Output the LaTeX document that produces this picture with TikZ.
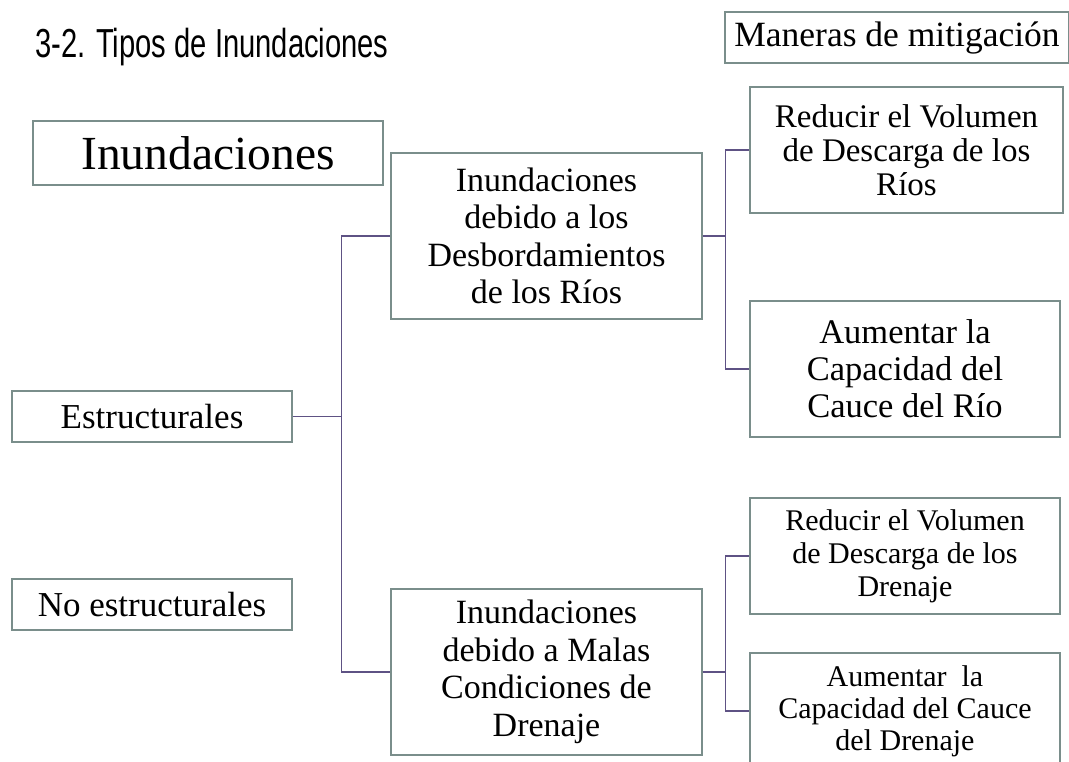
\documentclass[tikz,border=0pt]{standalone}
\usepackage{fontspec}
\setmainfont{Liberation Serif}
\newfontfamily\titlefont{Liberation Sans}[FakeStretch=0.72]
\usepackage{tikz}
\usetikzlibrary{positioning,calc}
\definecolor{cBox} {HTML}{7A8E8B}
\definecolor{cLink}{HTML}{5E5284}

\tikzset{
  box/.style={draw=cBox,line width=1.1pt,inner sep=0pt,align=center},
  link/.style={draw=cLink,line width=1.1pt},
}

\begin{document}
\begin{tikzpicture}[x=1pt,y=-1pt]
        \useasboundingbox (0,0) rectangle (1069,762);
        \node[anchor=base west,inner sep=0pt,font=\titlefont\fontsize{40.5}{46}\selectfont] (title) at (35,58) {3-2. Tipos de Inundaciones};
        \node[box,minimum width=350,minimum height=64,font=\fontsize{47.5}{54}\selectfont] (inund) at (208,153) {Inundaciones};
        \node[box,minimum width=344,minimum height=51,font=\fontsize{35.5}{40}\selectfont] (maneras) at (897,37.5) {Maneras de mitigación};
        % left column
        \node[box,minimum width=280,minimum height=51,font=\fontsize{35}{40}\selectfont] (estr) at (152,416.5) {Estructurales};
        \node[box,minimum width=280,minimum height=51,font=\fontsize{35}{40}\selectfont] (noestr) at (152,604.5) {No estructurales};
        % flood types
        \node[box,minimum width=311,minimum height=166,font=\fontsize{34}{37.5}\selectfont] (rios) at (546.5,236) {Inundaciones\\debido a los\\Desbordamientos\\de los Ríos};
        \node[box,minimum width=311,minimum height=166,font=\fontsize{34}{37.5}\selectfont] (drenaje) at (546.5,672) {Inundaciones\\debido a Malas\\Condiciones de\\Drenaje};
        % mitigation
        \node[box,minimum width=313,minimum height=126,font=\fontsize{33}{34}\selectfont] (redR) at (906.5,150) {Reducir el Volumen\\de Descarga de los\\Ríos};
        \node[box,minimum width=310,minimum height=136,font=\fontsize{34.5}{37}\selectfont] (aumR) at (905,369) {Aumentar la\\Capacidad del\\Cauce del Río};
        \node[box,minimum width=310,minimum height=116,font=\fontsize{30}{33}\selectfont] (redD) at (905,556) {Reducir el Volumen\\de Descarga de los\\Drenaje};
        \node[box,minimum width=310,minimum height=116,font=\fontsize{30}{32}\selectfont] (aumD) at (905,711) {Aumentar\ \ la\\Capacidad del Cauce\\del Drenaje};
        % connectors
        \draw[link] (estr.east) -- ++(49,0) coordinate (trunk);
        \draw[link] (trunk) |- (rios.west);
        \draw[link] (trunk) |- (drenaje.west);
        \draw[link] (rios.east) -- ++(23,0) coordinate (forkR) |- (redR.west);
        \draw[link] (forkR) |- (aumR.west);
        \draw[link] (drenaje.east) -- ++(23,0) coordinate (forkD) |- (redD.west);
        \draw[link] (forkD) |- (aumD.west);
      \end{tikzpicture}
\end{document}
